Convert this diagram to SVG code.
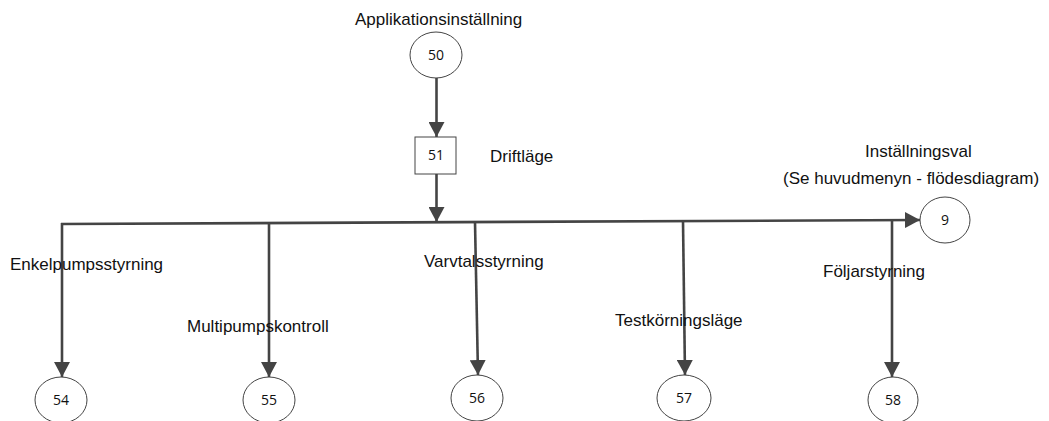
<svg xmlns="http://www.w3.org/2000/svg" width="1049" height="421" viewBox="0 0 1049 421">
<style>
.lbl{font-family:"Liberation Sans",Arial,sans-serif;font-size:17px;fill:#111}
.num{font-family:"Open Sans","Noto Sans",sans-serif;font-size:14px;fill:#111;text-anchor:middle}
.shape{fill:#fff;stroke:#444;stroke-width:1}
.conn{fill:none;stroke:#444;stroke-width:2.6}
</style>
<defs>
<marker id="arr" markerUnits="userSpaceOnUse" markerWidth="16" markerHeight="16" viewBox="0 0 16 16" refX="15" refY="8" orient="auto">
<path d="M0,0 L15,8 L0,16 Z" fill="#444"/>
</marker>
</defs>
<g id="connectors">
<line class="conn" x1="436.5" y1="78" x2="436.5" y2="137" marker-end="url(#arr)"/>
<line class="conn" x1="436.5" y1="174" x2="436.5" y2="222" marker-end="url(#arr)"/>
<line class="conn" x1="61" y1="224" x2="920" y2="220" marker-end="url(#arr)"/>
<line class="conn" x1="62" y1="223" x2="62" y2="377" marker-end="url(#arr)"/>
<line class="conn" x1="269" y1="223" x2="269" y2="377" marker-end="url(#arr)"/>
<line class="conn" x1="475" y1="222" x2="478" y2="375" marker-end="url(#arr)"/>
<line class="conn" x1="683" y1="221" x2="685" y2="375" marker-end="url(#arr)"/>
<line class="conn" x1="892" y1="220" x2="892" y2="377" marker-end="url(#arr)"/>
</g>
<g id="n50"><ellipse class="shape" cx="436" cy="55" rx="26" ry="23"/><text class="num" x="436" y="60">50</text></g>
<g id="n51"><rect class="shape" x="415" y="137" width="41" height="37"/><text class="num" x="436" y="160">51</text></g>
<g id="n9"><ellipse class="shape" cx="945" cy="220" rx="25" ry="23"/><text class="num" x="945" y="225">9</text></g>
<g id="n54"><ellipse class="shape" cx="61" cy="400" rx="26" ry="23"/><text class="num" x="61" y="405">54</text></g>
<g id="n55"><ellipse class="shape" cx="269" cy="400" rx="26" ry="23"/><text class="num" x="269" y="405">55</text></g>
<g id="n56"><ellipse class="shape" cx="477" cy="398" rx="26" ry="23"/><text class="num" x="477" y="403">56</text></g>
<g id="n57"><ellipse class="shape" cx="684" cy="398" rx="27" ry="23"/><text class="num" x="684" y="403">57</text></g>
<g id="n58"><ellipse class="shape" cx="893" cy="400" rx="25" ry="23"/><text class="num" x="893" y="405">58</text></g>
<g id="labels">
<text class="lbl" x="355" y="25">Applikationsinställning</text>
<text class="lbl" x="490" y="162">Driftläge</text>
<text class="lbl" x="865" y="157">Inställningsval</text>
<text class="lbl" x="783" y="184">(Se huvudmenyn - flödesdiagram)</text>
<text class="lbl" x="10" y="270">Enkelpumpsstyrning</text>
<text class="lbl" x="187" y="332">Multipumpskontroll</text>
<text class="lbl" x="424" y="267">Varvtalsstyrning</text>
<text class="lbl" x="615" y="326">Testkörningsläge</text>
<text class="lbl" x="823" y="277">Följarstyrning</text>
</g>
</svg>
